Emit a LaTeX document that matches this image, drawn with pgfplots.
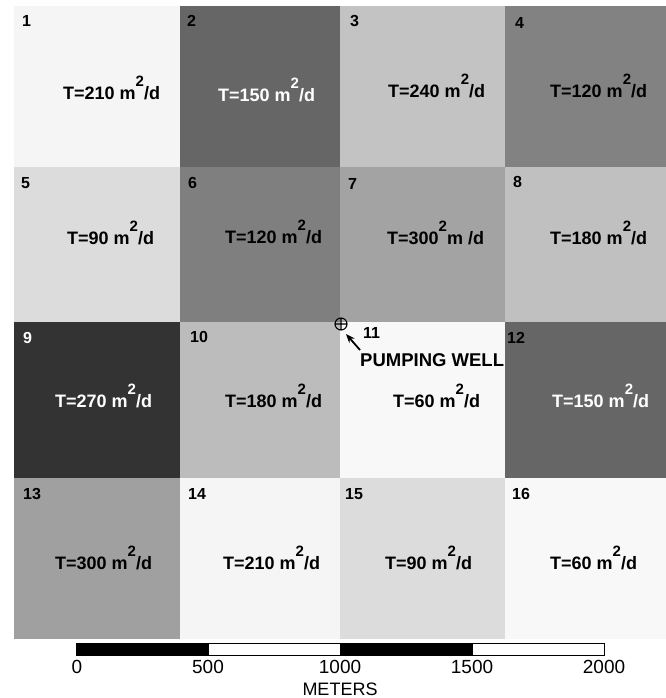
\documentclass[border=0pt]{standalone}
\usepackage{pgfplots}
\pgfplotsset{compat=1.18}
\usepackage{fontspec}
\setmainfont{Liberation Sans}
\usetikzlibrary{arrows.meta}
\definecolor{c1}{HTML}{F5F5F5}
\definecolor{c2}{HTML}{666666}
\definecolor{c3}{HTML}{C3C3C3}
\definecolor{c4}{HTML}{828282}
\definecolor{c5}{HTML}{DCDCDC}
\definecolor{c6}{HTML}{7F7F7F}
\definecolor{c7}{HTML}{A3A3A3}
\definecolor{c8}{HTML}{C0C0C0}
\definecolor{c9}{HTML}{333333}
\definecolor{c10}{HTML}{BCBCBC}
\definecolor{c11}{HTML}{F8F8F8}
\definecolor{c12}{HTML}{666666}
\definecolor{c13}{HTML}{A0A0A0}
\definecolor{c14}{HTML}{F5F5F5}
\definecolor{c15}{HTML}{DCDCDC}
\definecolor{c16}{HTML}{F8F8F8}
\newcommand{\sq}{\raisebox{13bp}{\fontsize{15bp}{15bp}\selectfont 2}}
\newcommand{\T}[1]{T=#1 m\sq/d}
\begin{document}
\begin{tikzpicture}[
  lab/.style={anchor=base west, inner sep=0pt, font=\bfseries\fontsize{18bp}{18bp}\selectfont},
  num/.style={anchor=base west, inner sep=0pt, font=\bfseries\fontsize{16bp}{16bp}\selectfont},
  sc/.style={anchor=base, inner sep=0pt, font=\fontsize{19bp}{19bp}\selectfont},
]
\begin{axis}[
  scale only axis, width=666bp, height=698bp,
  xmin=0, xmax=666, ymin=0, ymax=698, y dir=reverse,
  axis lines=none, ticks=none, clip=false,
]
\addplot[draw=none] coordinates {(0,0) (666,698)};
% cells
\addplot[draw=none, fill=c1]  coordinates {(14,6) (180,6) (180,167) (14,167)};
\addplot[draw=none, fill=c2]  coordinates {(180,6) (340,6) (340,167) (180,167)};
\addplot[draw=none, fill=c3]  coordinates {(340,6) (505,6) (505,167) (340,167)};
\addplot[draw=none, fill=c4]  coordinates {(505,6) (666,6) (666,167) (505,167)};
\addplot[draw=none, fill=c5]  coordinates {(14,167) (180,167) (180,322) (14,322)};
\addplot[draw=none, fill=c6]  coordinates {(180,167) (340,167) (340,322) (180,322)};
\addplot[draw=none, fill=c7]  coordinates {(340,167) (505,167) (505,322) (340,322)};
\addplot[draw=none, fill=c8]  coordinates {(505,167) (666,167) (666,322) (505,322)};
\addplot[draw=none, fill=c9]  coordinates {(14,322) (180,322) (180,478) (14,478)};
\addplot[draw=none, fill=c10] coordinates {(180,322) (340,322) (340,478) (180,478)};
\addplot[draw=none, fill=c11] coordinates {(340,322) (505,322) (505,478) (340,478)};
\addplot[draw=none, fill=c12] coordinates {(505,322) (666,322) (666,478) (505,478)};
\addplot[draw=none, fill=c13] coordinates {(14,478) (180,478) (180,639) (14,639)};
\addplot[draw=none, fill=c14] coordinates {(180,478) (340,478) (340,639) (180,639)};
\addplot[draw=none, fill=c15] coordinates {(340,478) (505,478) (505,639) (340,639)};
\addplot[draw=none, fill=c16] coordinates {(505,478) (666,478) (666,639) (505,639)};
% scale bar
\addplot[draw=black, fill=white, line width=0.8bp] coordinates {(76,643) (604,643) (604,655) (76,655) (76,643)};
\addplot[draw=black, fill=black, line width=0.8bp] coordinates {(76,643) (208,643) (208,655) (76,655) (76,643)};
\addplot[draw=black, fill=black, line width=0.8bp] coordinates {(340,643) (472,643) (472,655) (340,655) (340,643)};
\node[sc] at (axis cs:77,673) {0};
\node[sc] at (axis cs:208,673) {500};
\node[sc] at (axis cs:340,673) {1000};
\node[sc] at (axis cs:472,673) {1500};
\node[sc] at (axis cs:604,673) {2000};
\node[sc, font=\fontsize{18bp}{18bp}\selectfont] at (axis cs:340,695) {METERS};
% cell numbers
\node[num] at (axis cs:22,27) {1};
\node[num] at (axis cs:187,27) {2};
\node[num] at (axis cs:350,27) {3};
\node[num] at (axis cs:515,29) {4};
\node[num] at (axis cs:21,189) {5};
\node[num] at (axis cs:188,189) {6};
\node[num] at (axis cs:348,190) {7};
\node[num] at (axis cs:513,188) {8};
\node[num, text=white] at (axis cs:23,343) {9};
\node[num] at (axis cs:190,342) {10};
\node[num] at (axis cs:363,338) {11};
\node[num] at (axis cs:507,343) {12};
\node[num] at (axis cs:23,499) {13};
\node[num] at (axis cs:188,499) {14};
\node[num] at (axis cs:345,499) {15};
\node[num] at (axis cs:512,499) {16};
% T labels
\node[lab] at (axis cs:63,100) {\T{210}};
\node[lab, text=white] at (axis cs:218,102) {\T{150}};
\node[lab] at (axis cs:388,98) {\T{240}};
\node[lab] at (axis cs:550,98) {\T{120}};
\node[lab] at (axis cs:67,244) {\T{90}};
\node[lab] at (axis cs:225,243) {\T{120}};
\node[lab] at (axis cs:387,244) {T=300\raisebox{13bp}{\fontsize{15bp}{15bp}\selectfont 2}m /d};
\node[lab] at (axis cs:550,244) {\T{180}};
\node[lab, text=white] at (axis cs:55,407) {\T{270}};
\node[lab] at (axis cs:225,407) {\T{180}};
\node[lab] at (axis cs:393,407) {\T{60}};
\node[lab, text=white] at (axis cs:552,407) {\T{150}};
\node[lab] at (axis cs:55,569) {\T{300}};
\node[lab] at (axis cs:223,569) {\T{210}};
\node[lab] at (axis cs:385,569) {\T{90}};
\node[lab] at (axis cs:550,569) {\T{60}};
% pumping well
\addplot[only marks, mark=oplus, mark size=6bp, line width=1.1bp, mark options={fill=none}] coordinates {(341,324)};
\addplot[-{Stealth[length=9bp,width=7bp]}, line width=1.8bp] coordinates {(360,350) (346,334)};
\node[anchor=base west, inner sep=0pt, font=\bfseries\fontsize{18.5bp}{18.5bp}\selectfont] at (axis cs:360,366) {PUMPING WELL};
\end{axis}
\end{tikzpicture}
\end{document}
